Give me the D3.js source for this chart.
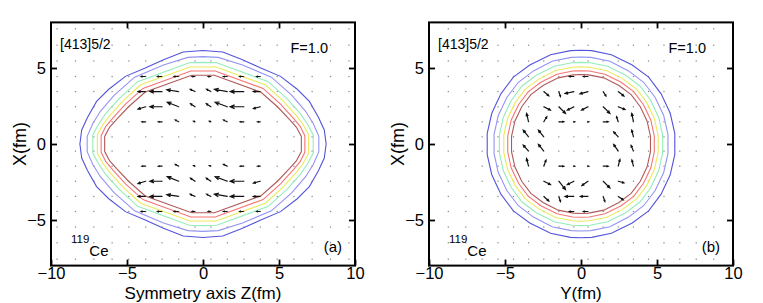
<!DOCTYPE html>
<html>
<head>
<meta charset="utf-8">
<script src="https://cdn.jsdelivr.net/npm/d3@7"></script>
<style>
body { margin: 0; background: #fff; }
svg { display: block; }
text { font-family: "Liberation Sans", Arial, sans-serif; fill: #000; }
</style>
</head>
<body>
<svg id="fig" width="763" height="303"></svg>
<script>
// mesh points (fm) - not evenly spaced
const zMesh = [-9.6, -8.39, -7.18, -5.98, -4.88, -3.77, -2.69, -1.6, -0.52, 0.52, 1.6, 2.69, 3.77, 4.88, 5.98, 7.18, 8.39, 9.6]
const pMesh = [-8.73, -7.58, -6.5, -5.46, -4.44, -3.45, -2.45, -1.46, -0.47, 0.47, 1.46, 2.45, 3.45, 4.44, 5.46, 6.5, 7.58, 8.73]

const xTicks = [-10, -5, 0, 5, 10]
const yTicks = [-5, 0, 5]
const levelColors = ['#5454dc', '#9494f4', '#94ecbc', '#eaea5c', '#f87474', '#b05a5a']

// contour quarters (first quadrant, from top to side), outer -> inner
const leftContours = [
    [[0, 6.15], [1.3, 6.05], [2.6, 5.55], [3.8, 5.0], [5.1, 4.45], [6.2, 3.6], [7.0, 2.8], [7.6, 1.75], [7.98, 0.92], [8.1, 0]],
    [[0, 5.75], [1.0, 5.7], [2.6, 5.2], [4.5, 4.4], [5.85, 3.2], [6.75, 2.15], [7.25, 1.35], [7.62, 0.5], [7.62, 0]],
    [[0, 5.37], [0.9, 5.35], [4.3, 4.1], [5.55, 2.95], [6.4, 2.0], [6.88, 1.3], [7.25, 0.6], [7.25, 0]],
    [[0, 5.07], [0.85, 5.07], [4.1, 3.9], [5.3, 2.8], [6.15, 1.85], [6.6, 1.25], [6.95, 0.6], [6.95, 0]],
    [[0, 4.8], [0.8, 4.8], [3.95, 3.66], [5.1, 2.62], [5.92, 1.72], [6.38, 1.18], [6.7, 0.55], [6.7, 0]],
    [[0, 4.52], [0.75, 4.52], [3.8, 3.42], [4.9, 2.45], [5.7, 1.6], [6.15, 1.1], [6.47, 0.5], [6.47, 0]]
]
const rightContours = [
    [[0, 6.17], [0.7, 6.14], [2.0, 5.87], [3.37, 5.2], [4.45, 4.4], [5.27, 3.3], [5.87, 2.02], [6.17, 0.7], [6.17, 0]],
    [[0, 5.72], [0.65, 5.7], [1.9, 5.44], [3.13, 4.81], [4.12, 4.06], [4.88, 3.06], [5.44, 1.88], [5.72, 0.63], [5.72, 0]],
    [[0, 5.37], [0.6, 5.35], [1.76, 5.11], [2.94, 4.52], [3.88, 3.82], [4.58, 2.88], [5.11, 1.76], [5.37, 0.59], [5.37, 0]],
    [[0, 5.08], [0.55, 5.05], [1.67, 4.83], [2.78, 4.27], [3.66, 3.61], [4.33, 2.72], [4.83, 1.67], [5.08, 0.55], [5.08, 0]],
    [[0, 4.82], [0.55, 4.8], [1.58, 4.59], [2.64, 4.06], [3.48, 3.43], [4.11, 2.58], [4.59, 1.58], [4.82, 0.53], [4.82, 0]],
    [[0, 4.57], [0.5, 4.55], [1.5, 4.35], [2.5, 3.85], [3.3, 3.25], [3.9, 2.45], [4.35, 1.5], [4.57, 0.5], [4.57, 0]]
]

// arrows: [horizontal pos, X pos, du, dv] in fm
const leftArrows = [
    [-3.77, 4.44, -0.3, 0], [-2.69, 4.44, -0.3, 0], [-1.6, 4.44, -0.3, 0], [-0.52, 4.44, -0.2, 0],
    [0.52, 4.44, -0.18, 0], [1.6, 4.44, -0.25, 0], [2.69, 4.44, -0.28, 0], [3.77, 4.44, -0.24, 0],
    [-3.77, 3.45, -0.5, 0], [-2.69, 3.45, -0.8, 0], [-1.6, 3.45, -0.78, 0.12], [-0.52, 3.45, -0.32, 0.15],
    [0.52, 3.45, -0.28, 0.15], [1.6, 3.45, -0.85, 0.15], [2.69, 3.45, -0.9, 0], [3.77, 3.45, -0.46, 0],
    [-3.77, 2.45, -0.5, -0.15], [-2.69, 2.45, -0.8, 0], [-1.6, 2.45, -0.75, 0.3], [-0.52, 2.45, -0.3, 0.2],
    [0.52, 2.45, -0.3, 0.2], [1.6, 2.45, -0.8, 0.3], [2.69, 2.45, -0.9, 0], [3.77, 2.45, -0.45, -0.12],
    [-3.77, 1.46, -0.25, 0], [-2.69, 1.46, -0.25, 0], [-1.6, 1.46, -0.22, 0.12], [-0.52, 1.46, -0.1, 0.04],
    [0.52, 1.46, -0.1, 0.04], [1.6, 1.46, -0.25, 0.12], [2.69, 1.46, -0.25, 0], [3.77, 1.46, -0.18, 0],
    [-3.77, -1.46, -0.25, 0], [-2.69, -1.46, -0.25, 0], [-1.6, -1.46, -0.22, 0.12], [-0.52, -1.46, -0.1, 0.04],
    [0.52, -1.46, -0.1, 0.04], [1.6, -1.46, -0.25, 0.12], [2.69, -1.46, -0.25, 0], [3.77, -1.46, -0.18, 0],
    [-3.77, -2.45, -0.5, -0.15], [-2.69, -2.45, -0.8, 0], [-1.6, -2.45, -0.75, 0.3], [-0.52, -2.45, -0.3, 0.2],
    [0.52, -2.45, -0.3, 0.2], [1.6, -2.45, -0.8, 0.3], [2.69, -2.45, -0.9, 0], [3.77, -2.45, -0.45, -0.12],
    [-3.77, -3.45, -0.5, 0], [-2.69, -3.45, -0.8, 0], [-1.6, -3.45, -0.78, 0.12], [-0.52, -3.45, -0.32, 0.15],
    [0.52, -3.45, -0.28, 0.15], [1.6, -3.45, -0.85, 0.15], [2.69, -3.45, -0.9, 0], [3.77, -3.45, -0.46, 0],
    [-3.77, -4.44, -0.3, 0], [-2.69, -4.44, -0.3, 0], [-1.6, -4.44, -0.3, 0], [-0.52, -4.44, -0.2, 0],
    [0.52, -4.44, -0.18, 0], [1.6, -4.44, -0.25, 0], [2.69, -4.44, -0.28, 0], [3.77, -4.44, -0.24, 0]
]
const rightArrows = [
    [-0.46, 4.44, -0.3, 0], [0.46, 4.44, -0.3, 0],
    [-2.45, 3.45, 0.33, -0.28], [-1.46, 3.45, 0.11, -0.33], [-0.46, 3.45, -0.59, -0.13],
    [0.46, 3.45, -0.53, -0.15], [1.46, 3.45, 0.18, -0.29], [2.45, 3.45, 0.37, -0.29],
    [-2.45, 2.45, 0.44, -0.22], [-1.46, 2.45, 0.44, -0.44], [-0.46, 2.45, -0.44, -0.22],
    [0.46, 2.45, -0.42, -0.22], [1.46, 2.45, 0.44, -0.44], [2.45, 2.45, 0.44, -0.18],
    [-3.45, 1.46, -0.13, 0.55], [-2.45, 1.46, 0.2, 0.33], [-1.46, 1.46, 0.33, 0], [-0.46, 1.46, 0.05, 0],
    [0.46, 1.46, 0.05, 0], [1.46, 1.46, 0.33, 0], [2.45, 1.46, -0.11, 0.33], [3.45, 1.46, -0.11, 0.55],
    [-3.45, 0.47, -0.35, 0.44], [-2.45, 0.47, -0.35, 0.44], [2.45, 0.47, -0.3, 0.33], [3.45, 0.47, -0.11, 0.44],
    [-3.45, -0.47, -0.35, 0.4], [-2.45, -0.47, -0.35, 0.44], [2.45, -0.47, -0.3, 0.44], [3.45, -0.47, -0.15, 0.37],
    [-3.45, -1.46, -0.13, 0.5], [-2.45, -1.46, 0.15, 0.4], [-1.46, -1.46, 0.33, 0], [-0.46, -1.46, 0.05, 0],
    [0.46, -1.46, 0.05, 0], [1.46, -1.46, 0.33, 0], [2.45, -1.46, 0.11, 0.44], [3.45, -1.46, -0.1, 0.4],
    [-2.45, -2.45, 0.44, -0.22], [-1.46, -2.45, 0.44, -0.55], [-0.46, -2.45, -0.44, -0.22],
    [0.46, -2.45, -0.4, -0.28], [1.46, -2.45, 0.44, -0.44], [2.45, -2.45, 0.37, -0.1],
    [-2.45, -3.45, 0.33, -0.3], [-1.46, -3.45, 0.11, -0.33], [-0.46, -3.45, -0.59, 0],
    [0.46, -3.45, -0.5, 0], [1.46, -3.45, 0.11, -0.33], [2.45, -3.45, 0.33, -0.22],
    [-0.46, -4.44, -0.3, 0], [0.46, -4.44, -0.3, 0]
]

const svg = d3.select('#fig')
const panelH = { top: 22.4, bottom: 265.6 }

function fullLoop(q) {
    // mirror the quarter to a closed outline
    const pts = []
    q.forEach(d => pts.push([d[0], d[1]]))
    q.slice().reverse().forEach(d => pts.push([d[0], -d[1]]))
    q.forEach(d => pts.push([-d[0], -d[1]]))
    q.slice().reverse().forEach(d => pts.push([-d[0], d[1]]))
    return pts
}

const drawPanel = (left, hMesh, contours, arrows, xlabel, tag) => {
    const xs = d3.scaleLinear().domain([-10, 10]).range([left, left + 304])
    const ys = d3.scaleLinear().domain([-8, 8]).range([panelH.bottom, panelH.top])
    const g = svg.append('g')

    // mesh dots
    const vMesh = pMesh.filter(v => Math.abs(v) < 8)
    const dots = []
    hMesh.forEach(h => vMesh.forEach(v => dots.push([h, v])))
    g.selectAll('rect.dot').data(dots).enter().append('rect')
        .attr('class', 'dot')
        .attr('x', d => xs(d[0]) - 0.6)
        .attr('y', d => ys(d[1]) - 0.6)
        .attr('width', 1.2).attr('height', 1.2)
        .attr('fill', '#808080')

    // contours
    const line = d3.line().x(d => xs(d[0])).y(d => ys(d[1])).curve(d3.curveLinearClosed)
    g.selectAll('path.lev').data(contours).enter().append('path')
        .attr('class', 'lev')
        .attr('d', d => line(fullLoop(d)))
        .attr('fill', 'none')
        .attr('stroke', (d, i) => levelColors[i])
        .attr('stroke-width', 1.1)

    // arrows
    const arrowPath = d => {
        const x1 = xs(d[0]), y1 = ys(d[1])
        const x2 = xs(d[0] + d[2]), y2 = ys(d[1] + d[3])
        const len = Math.hypot(x2 - x1, y2 - y1)
        const a = Math.atan2(y2 - y1, x2 - x1)
        const hl = Math.max(1.5, len * 0.35)
        const hw = 0.4
        const p1 = [x2 - hl * Math.cos(a - hw), y2 - hl * Math.sin(a - hw)]
        const p2 = [x2 - hl * Math.cos(a + hw), y2 - hl * Math.sin(a + hw)]
        return `M${x1},${y1}L${x2},${y2}M${p1[0]},${p1[1]}L${x2},${y2}L${p2[0]},${p2[1]}`
    }
    g.selectAll('path.arr').data(arrows).enter().append('path')
        .attr('class', 'arr')
        .attr('d', arrowPath)
        .attr('fill', 'none')
        .attr('stroke', '#111')
        .attr('stroke-width', 1.2)

    // axes, inward ticks
    const styleAx = sel => {
        sel.select('.domain').remove()
        sel.selectAll('line').attr('stroke', '#000').attr('stroke-width', 1.8)
        sel.selectAll('text').style('font-size', '16.5px').attr('fill', '#000')
    }
    g.append('g').attr('transform', `translate(0,${panelH.bottom})`)
        .call(d3.axisBottom(xs).tickValues(xTicks).tickSize(-6).tickPadding(1.5)).call(styleAx)
    g.append('g').attr('transform', `translate(0,${panelH.top})`)
        .call(d3.axisTop(xs).tickValues(xTicks.slice(1, 4)).tickSize(-6).tickFormat('')).call(styleAx)
    g.append('g').attr('transform', `translate(${left},0)`)
        .call(d3.axisLeft(ys).tickValues(yTicks).tickSize(-6).tickPadding(5)).call(styleAx)
    g.append('g').attr('transform', `translate(${left + 304},0)`)
        .call(d3.axisRight(ys).tickValues(yTicks).tickSize(-6).tickFormat('')).call(styleAx)

    g.append('rect')
        .attr('x', left).attr('y', panelH.top)
        .attr('width', 304).attr('height', panelH.bottom - panelH.top)
        .attr('fill', 'none').attr('stroke', '#000').attr('stroke-width', 2)

    // labels
    g.append('text').attr('x', left + 152).attr('y', 298.5)
        .attr('text-anchor', 'middle').style('font-size', '17px').text(xlabel)
    g.append('text')
        .attr('transform', `translate(${left - 25},144) rotate(-90)`)
        .attr('text-anchor', 'middle').style('font-size', '18px').text('X(fm)')

    g.append('text').attr('x', left + 9).attr('y', 49).style('font-size', '14px').text('[413]5/2')
    g.append('text').attr('x', left + 277).attr('y', 53).attr('text-anchor', 'end')
        .style('font-size', '14.5px').text('F=1.0')
    const nuc = g.append('text').attr('x', left + 20).attr('y', 256).style('font-size', '15px')
    nuc.append('tspan').attr('dy', -13).style('font-size', '11.5px').text('119')
    nuc.append('tspan').attr('dy', 13).text('Ce')
    g.append('text').attr('x', left + 291).attr('y', 252).attr('text-anchor', 'end')
        .style('font-size', '15px').text(tag)
}

drawPanel(51, zMesh, leftContours, leftArrows, 'Symmetry axis Z(fm)', '(a)')
drawPanel(429, pMesh, rightContours, rightArrows, 'Y(fm)', '(b)')
</script>
</body>
</html>
